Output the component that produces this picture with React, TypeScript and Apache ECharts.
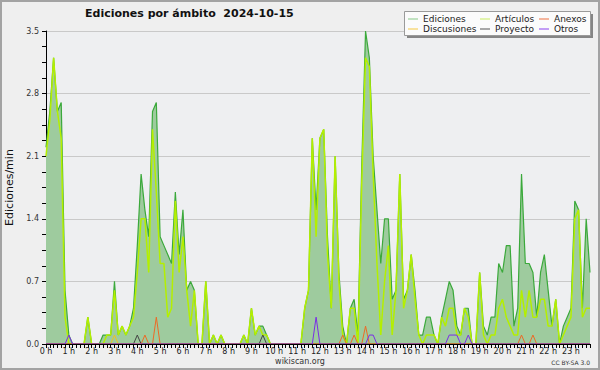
import React, { useEffect, useRef } from 'react';
import * as echarts from 'echarts';

// 10-minute slots for one day (144 categories)
const hourLabels = [
  '0 h', '1 h', '2 h', '3 h', '4 h', '5 h', '6 h', '7 h', '8 h', '9 h', '10 h', '11 h',
  '12 h', '13 h', '14 h', '15 h', '16 h', '17 h', '18 h', '19 h', '20 h', '21 h', '22 h', '23 h',
];
const minuteSlots = ['00', '10', '20', '30', '40', '50'];
const categories: string[] = [];
hourLabels.forEach((_, h) => minuteSlots.forEach((m) => categories.push(`${h}:${m}`)));

const yTicks = [0, 0.7, 1.4, 2.1, 2.8, 3.5];

const ediciones = [
  2.2, 2.6, 3.2, 2.6, 2.7, 0.6, 0.1, 0, 0, 0, 0, 0.3,
  0, 0, 0, 0.1, 0.1, 0.1, 0.7, 0.1, 0.2, 0.1, 0.2, 0.4,
  1.1, 1.9, 1.5, 1.2, 2.6, 2.7, 1.2, 1.1, 1.0, 0.9, 1.7, 1.0,
  1.5, 0.6, 0.7, 0.6, 0, 0, 0.7, 0, 0.1, 0, 0.1, 0,
  0, 0, 0, 0, 0.1, 0, 0.4, 0.1, 0.2, 0.2, 0.1, 0,
  0, 0, 0, 0, 0, 0, 0, 0, 0.4, 0.6, 2.3, 1.5,
  2.3, 2.4, 1.2, 0.4, 2.1, 0.8, 0.2, 0, 0.4, 0.5, 0.1, 2.0,
  3.5, 3.2, 2.1, 1.5, 0.9, 1.4, 1.4, 0.5, 0.6, 1.9, 0.5, 0.6,
  1.0, 0.6, 0.1, 0.1, 0.3, 0.3, 0.1, 0, 0.3, 0.5, 0.7, 0.6,
  0.2, 0.1, 0.4, 0.4, 0, 0, 0.8, 0.2, 0.1, 0.3, 0.3, 0.9,
  0.8, 1.1, 1.1, 0.2, 0.4, 1.9, 0.9, 0.9, 0.8, 0.3, 0.8, 1.0,
  0.6, 0.2, 0.5, 0, 0.2, 0.3, 0.4, 1.6, 1.5, 0.4, 1.4, 0.8,
];

const articulos = [
  2.1, 2.5, 3.2, 2.6, 2.3, 0.3, 0, 0, 0, 0, 0, 0.3,
  0, 0, 0, 0, 0.1, 0.1, 0.6, 0.1, 0.2, 0.1, 0.2, 0.3,
  0.8, 1.4, 1.4, 0.8, 2.4, 1.7, 0.9, 0.9, 0.3, 0.4, 1.6, 0.8,
  1.2, 0.6, 0.2, 0.6, 0, 0, 0.7, 0, 0.1, 0, 0.1, 0,
  0, 0, 0, 0, 0.1, 0, 0.4, 0.1, 0.2, 0.1, 0.1, 0,
  0, 0, 0, 0, 0, 0, 0, 0, 0.4, 0.6, 2.3, 1.2,
  2.3, 2.4, 1.0, 0.4, 2.1, 0.7, 0.1, 0, 0.4, 0.4, 0, 1.8,
  3.2, 3.1, 1.9, 0.9, 0.1, 0.7, 1.1, 0.1, 0.6, 1.9, 0.4, 0.6,
  1.0, 0.5, 0.1, 0, 0.1, 0.1, 0.1, 0, 0.3, 0.2, 0.4, 0.4,
  0.1, 0.1, 0.4, 0.3, 0, 0, 0.8, 0.1, 0, 0.1, 0.1, 0.4,
  0.5, 0.3, 0.2, 0.1, 0.1, 0.6, 0.3, 0.6, 0.3, 0.3, 0.5, 0.5,
  0.2, 0.2, 0.5, 0, 0.1, 0.2, 0.3, 1.4, 1.5, 0.3, 0.4, 0.4,
];

const anexos = [
  0, 0, 0, 0, 0, 0, 0, 0, 0, 0, 0, 0,
  0, 0, 0, 0, 0, 0, 0, 0, 0, 0, 0, 0,
  0, 0, 0.1, 0, 0, 0.3, 0, 0, 0, 0, 0, 0,
  0, 0, 0, 0, 0, 0, 0, 0, 0, 0, 0, 0,
  0, 0, 0, 0, 0, 0, 0, 0, 0, 0, 0, 0,
  0, 0, 0, 0, 0, 0, 0, 0, 0, 0, 0, 0,
  0, 0, 0, 0, 0, 0, 0.1, 0, 0, 0.1, 0, 0,
  0.2, 0, 0, 0, 0, 0, 0, 0, 0, 0, 0, 0,
  0, 0, 0, 0, 0, 0, 0, 0, 0, 0, 0, 0,
  0, 0, 0, 0, 0, 0, 0, 0, 0, 0, 0, 0,
  0, 0, 0, 0, 0, 0.1, 0, 0, 0.1, 0, 0, 0,
  0, 0, 0, 0, 0, 0, 0, 0, 0, 0, 0, 0,
];

const discusiones = [
  0, 0, 0, 0, 0, 0, 0, 0, 0, 0, 0, 0,
  0, 0, 0, 0, 0, 0, 0.1, 0, 0, 0, 0, 0,
  0, 0, 0, 0, 0, 0, 0, 0, 0, 0, 0, 0,
  0, 0, 0, 0, 0, 0, 0, 0, 0, 0, 0, 0,
  0, 0, 0, 0, 0, 0, 0, 0, 0, 0, 0, 0,
  0, 0, 0, 0, 0, 0, 0, 0, 0, 0, 0, 0,
  0, 0, 0, 0, 0, 0, 0, 0, 0, 0, 0, 0,
  0, 0, 0, 0, 0, 0, 0, 0, 0, 0, 0, 0,
  0, 0, 0, 0, 0, 0, 0, 0, 0, 0, 0, 0,
  0, 0, 0, 0, 0, 0, 0, 0, 0, 0, 0, 0,
  0, 0, 0, 0, 0, 0, 0, 0, 0, 0, 0, 0,
  0, 0, 0, 0, 0, 0, 0, 0, 0, 0, 0, 0,
];

const proyecto = [
  0, 0, 0, 0, 0, 0, 0, 0, 0, 0, 0, 0,
  0, 0, 0, 0, 0, 0, 0, 0, 0, 0, 0, 0,
  0.1, 0, 0, 0, 0, 0, 0, 0, 0, 0, 0, 0,
  0, 0, 0, 0, 0, 0, 0, 0, 0, 0, 0, 0,
  0, 0, 0, 0, 0, 0, 0, 0, 0, 0.1, 0, 0,
  0, 0, 0, 0, 0, 0, 0, 0, 0, 0, 0, 0,
  0, 0, 0, 0, 0, 0, 0, 0, 0, 0, 0, 0,
  0, 0, 0, 0, 0, 0, 0, 0, 0, 0, 0, 0,
  0, 0, 0, 0, 0, 0, 0, 0, 0, 0, 0, 0,
  0, 0, 0, 0, 0, 0, 0, 0, 0, 0, 0, 0,
  0, 0, 0, 0, 0, 0, 0, 0, 0, 0, 0, 0,
  0, 0, 0, 0, 0, 0, 0, 0, 0, 0, 0, 0,
];

const otros = [
  0, 0, 0, 0, 0, 0, 0.1, 0, 0, 0, 0, 0,
  0, 0, 0, 0, 0, 0, 0, 0, 0, 0, 0, 0,
  0, 0, 0, 0, 0, 0, 0, 0, 0, 0, 0, 0,
  0, 0, 0, 0, 0, 0, 0, 0, 0, 0, 0, 0,
  0, 0, 0, 0, 0, 0, 0, 0, 0, 0, 0, 0,
  0, 0, 0, 0, 0, 0, 0, 0, 0, 0, 0, 0.3,
  0, 0, 0, 0, 0, 0, 0, 0, 0, 0, 0, 0,
  0, 0.1, 0.1, 0, 0, 0, 0, 0, 0, 0, 0, 0,
  0, 0, 0, 0, 0, 0, 0, 0, 0, 0, 0.1, 0.1,
  0.1, 0, 0, 0.1, 0, 0, 0, 0, 0, 0, 0, 0,
  0, 0, 0, 0, 0, 0, 0, 0, 0, 0, 0, 0,
  0, 0, 0, 0, 0, 0, 0, 0, 0, 0, 0, 0,
];

const FONT = 'DejaVu Sans';

const lineSeries = (name: string, data: number[], color: string, width: number, z: number) => ({
  name,
  type: 'line',
  data,
  symbol: 'none',
  showSymbol: false,
  smooth: false,
  z,
  itemStyle: { color },
  lineStyle: { color, width },
});

const legendBase = {
  orient: 'vertical',
  itemWidth: 10,
  itemHeight: 1,
  itemGap: 0,
  icon: 'rect',
  padding: 0,
  selectedMode: false,
  z: 20,
  textStyle: { fontSize: 9, color: '#222', fontFamily: FONT, lineHeight: 10 },
};

export default function App() {
  const ref = useRef<HTMLDivElement>(null);
  useEffect(() => {
    const chart = echarts.init(ref.current!, null, { renderer: 'svg' });
    const option: any = {
      animation: false,
      backgroundColor: '#efefef',
      textStyle: { fontFamily: FONT },
      title: {
        text: 'Ediciones por ámbito  2024-10-15',
        left: 85,
        top: 8,
        padding: 0,
        textStyle: { fontSize: 11, fontWeight: 'bold', color: '#111', fontFamily: FONT },
      },
      grid: {
        left: 46, right: 10, top: 31, bottom: 26,
        containLabel: false,
        outerBoundsMode: 'none',
        show: true, backgroundColor: '#eeeff1', borderWidth: 0,
      },
      xAxis: {
        type: 'category',
        data: categories,
        boundaryGap: false,
        z: 5,
        axisLine: { lineStyle: { color: '#000', width: 1 } },
        axisTick: { interval: 0, length: 4, lineStyle: { color: '#000' } },
        axisLabel: {
          interval: 5,
          margin: 3,
          fontSize: 8,
          color: '#222',
          fontFamily: FONT,
          formatter: (_v: string, idx: number) => hourLabels[Math.round(idx / 6)],
        },
        splitLine: { show: false },
      },
      yAxis: {
        type: 'value',
        min: yTicks[0],
        max: yTicks[yTicks.length - 1],
        interval: 0.7,
        name: 'Ediciones/min',
        nameLocation: 'middle',
        nameGap: 31,
        nameTextStyle: { fontSize: 11, color: '#111', fontFamily: FONT },
        axisLine: { show: true, lineStyle: { color: '#000' } },
        axisTick: { show: true, length: 4, lineStyle: { color: '#000' } },
        minorTick: { show: true, splitNumber: 4, length: 4, lineStyle: { color: '#000' } },
        axisLabel: {
          margin: 7,
          fontSize: 8,
          color: '#333',
          fontFamily: FONT,
          formatter: (v: number) => v.toFixed(1),
        },
        splitLine: { lineStyle: { color: '#c9c9c9' } },
      },
      legend: [
        {
          ...legendBase, left: 408, top: 14,
          data: [
            { name: 'Ediciones', itemStyle: { color: '#86c986' } },
            { name: 'Discusiones', itemStyle: { color: '#f5c840' } },
          ],
        },
        {
          ...legendBase, left: 480, top: 14,
          data: [
            { name: 'Artículos', itemStyle: { color: '#c8ec60' } },
            { name: 'Proyecto', itemStyle: { color: '#555555' } },
          ],
        },
        {
          ...legendBase, left: 539, top: 14,
          data: [
            { name: 'Anexos', itemStyle: { color: '#ee7040' } },
            { name: 'Otros', itemStyle: { color: '#8a40ee' } },
          ],
        },
      ],
      graphic: [
        {
          type: 'rect', z: 10,
          shape: { x: 407, y: 14, width: 186, height: 24 },
          style: { fill: '#858585' },
        },
        {
          type: 'rect', z: 11,
          shape: { x: 404.5, y: 11.5, width: 186, height: 24 },
          style: { fill: '#fbfbfb', stroke: '#9a9a9a', lineWidth: 1 },
        },
        {
          type: 'text', z: 10, x: 300, y: 361,
          style: {
            text: 'wikiscan.org', fontSize: 8, fontFamily: FONT, fill: '#333',
            align: 'center', verticalAlign: 'middle',
          },
        },
        {
          type: 'text', z: 10, x: 590, y: 362,
          style: {
            text: 'CC BY-SA 3.0', fontSize: 6, fontFamily: FONT, fill: '#333',
            align: 'right', verticalAlign: 'middle',
          },
        },
        {
          type: 'rect', z: 30, silent: true,
          shape: { x: 1, y: 1, width: 598, height: 368 },
          style: { fill: 'none', stroke: '#a3a3a3', lineWidth: 2 },
        },
      ],
      series: [
        {
          ...lineSeries('Ediciones', ediciones, '#3ba93b', 1.2, 2),
          areaStyle: { color: '#9ecb9e', opacity: 1 },
        },
        lineSeries('Artículos', articulos, '#b4ef00', 1.5, 3),
        lineSeries('Discusiones', discusiones, '#f2c21c', 1, 3),
        lineSeries('Proyecto', proyecto, '#444444', 1, 3),
        lineSeries('Anexos', anexos, '#ec6a26', 1, 3),
        lineSeries('Otros', otros, '#7a2ee6', 1, 3),
      ],
    };
    chart.setOption(option);
    return () => chart.dispose();
  }, []);
  return (
    <div
      ref={ref}
      style={{ position: 'fixed', left: 0, top: 0, width: 600, height: 370 }}
    />
  );
}
